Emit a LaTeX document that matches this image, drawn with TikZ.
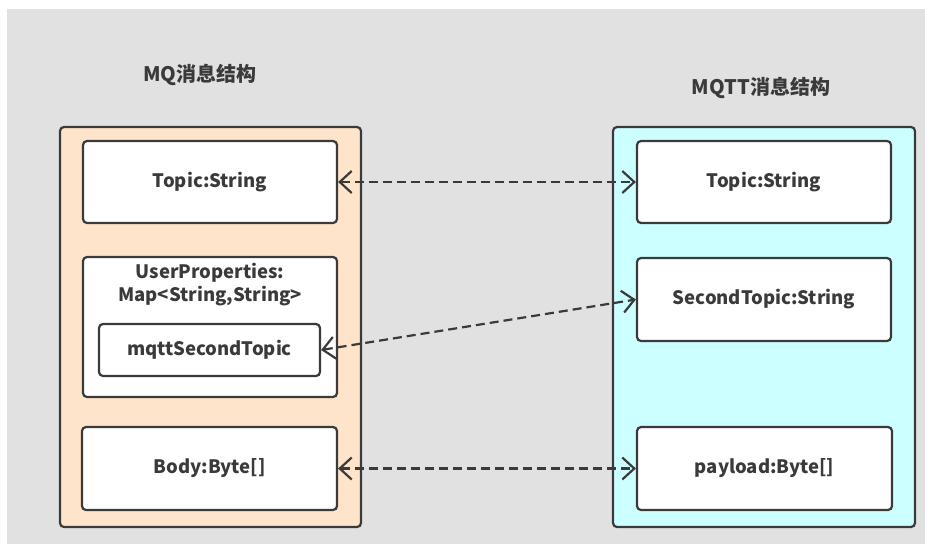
\documentclass[tikz,border=0pt]{standalone}
\usepackage{fontspec}
\setmainfont{Noto Sans CJK SC}
\usetikzlibrary{arrows.meta}
\definecolor{bggray}{HTML}{E1E1E1}
\definecolor{peach}{HTML}{FFE4CC}
\definecolor{aqua}{HTML}{CCFFFF}
\definecolor{ink}{HTML}{3A3A3A}
\begin{document}
\begin{tikzpicture}[x=1pt,y=-1pt,
   frame/.style={draw=ink,line width=2.2pt,rounded corners=4pt,inner sep=0pt},
   box/.style={frame,fill=white,text=ink,font=\fontsize{18.5}{23}\selectfont\bfseries},
   title/.style={text=ink,font=\fontsize{20}{24}\selectfont\bfseries},
   link/.style={draw=ink,line width=2.2pt,dash pattern=on 9pt off 5pt,
     {Straight Barb[length=12pt,width=22pt,line width=2.2pt]}-{Straight Barb[length=12pt,width=22pt,line width=2.2pt]}}]
   \useasboundingbox (0,0) rectangle (925,544);
   \fill[white] (0,0) rectangle (925,544);
   \fill[bggray] (7,9) rectangle (925,544);

   % titles
   \node[title] (lhead) at (200,75) {MQ消息结构};
   \node[title] (rhead) at (761,88) {MQTT消息结构};

   % containers
   \node[frame,fill=peach,minimum width=301pt,minimum height=400pt] (lframe) at (210.5,327) {};
   \node[frame,fill=aqua,minimum width=302pt,minimum height=400pt] (rframe) at (764,327) {};

   % MQ side
   \node[box,minimum width=254pt,minimum height=82pt] (ltopic) at (210,182) {Topic:String};
   \node[box,minimum width=254pt,minimum height=140pt] (lprops) at (210,327) {};
   \node[box,draw=none,fill=none,align=center] (lpropstext) at (210,285) {UserProperties:\\Map<String,String>};
   \node[box,minimum width=221pt,minimum height=52pt] (lsecond) at (209.5,350) {mqttSecondTopic};
   \node[box,minimum width=255pt,minimum height=83pt] (lbody) at (209.5,468.5) {Body:Byte[]};

   % MQTT side
   \node[box,minimum width=254pt,minimum height=82pt] (rtopic) at (764,182) {Topic:String};
   \node[box,minimum width=254pt,minimum height=83pt] (rsecond) at (764,299.5) {SecondTopic:String};
   \node[box,minimum width=255pt,minimum height=83pt] (rpayload) at (764.5,468.5) {payload:Byte[]};

   % mappings
   \draw[link] (ltopic.east) -- (rtopic.west);
   \draw[link] (lsecond.east) -- (rsecond.west);
   \draw[link] (lbody.east) -- (rpayload.west);
\end{tikzpicture}
\end{document}
